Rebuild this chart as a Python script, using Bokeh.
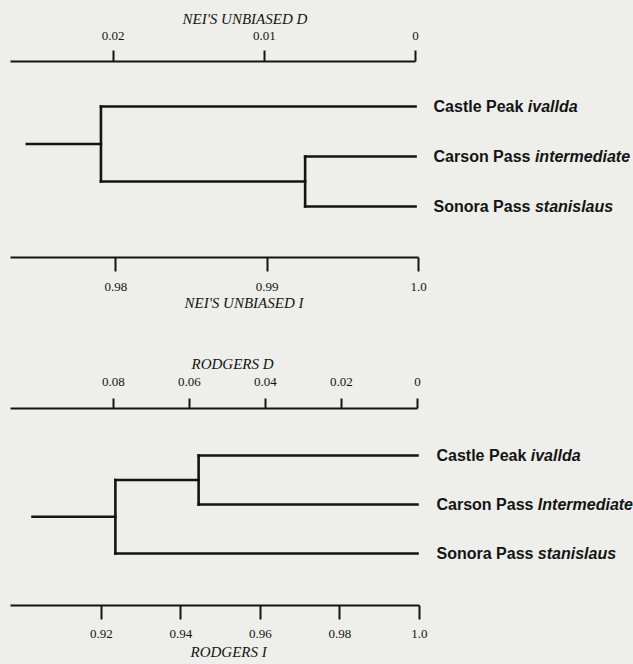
from bokeh.plotting import figure
from bokeh.models import Range1d, LinearAxis, FixedTicker, ColumnDataSource, Title
from bokeh.core.properties import value
from bokeh.layouts import column
from bokeh.embed import file_html
from bokeh.resources import INLINE

# ---------------- data ----------------
populations = ["Castle Peak", "Carson Pass", "Sonora Pass"]
nei_subspecies = ["ivallda", "intermediate", "stanislaus"]
rodgers_subspecies = ["ivallda", "Intermediate", "stanislaus"]

# Nei's unbiased D tree: Carson Pass + Sonora Pass join first, then Castle Peak
nei_pair = [1, 2]
nei_pair_D = 0.0073
nei_root_D = 0.0208
nei_stem_D = 0.0257

# Rodgers D tree: Castle Peak + Carson Pass join first, then Sonora Pass
rodgers_pair = [0, 1]
rodgers_pair_D = 0.0576
rodgers_root_D = 0.0795
rodgers_stem_D = 0.1013

nei_D_ticks = [0.02, 0.01, 0.0]
nei_D_labels = ["0.02", "0.01", "0"]
nei_I_ticks = [0.98, 0.99, 1.0]
nei_I_labels = ["0.98", "0.99", "1.0"]
rodgers_D_ticks = [0.08, 0.06, 0.04, 0.02, 0.0]
rodgers_D_labels = ["0.08", "0.06", "0.04", "0.02", "0"]
rodgers_I_ticks = [0.92, 0.94, 0.96, 0.98, 1.0]
rodgers_I_labels = ["0.92", "0.94", "0.96", "0.98", "1.0"]

# ---------------- styling ----------------
BG = "#eeeeeb"
INK = "#141414"
W = 633
LABEL_PX = 16
# Helvetica/Liberation Sans Bold advance widths (per 1000 em)
HB = {' ': 278, 'C': 722, 'a': 556, 's': 556, 't': 333, 'l': 278, 'e': 556, 'P': 667,
      'k': 556, 'r': 389, 'o': 611, 'n': 611, 'S': 667}


def text_width(s, size):
    return sum(HB.get(c, 556) for c in s) * size / 1000.0


def tree_segments(pair, pair_D, root_D, stem_D):
    other = [i for i in range(len(populations)) if i not in pair][0]
    pair_y = sum(pair) / 2.0
    root_y = (other + pair_y) / 2.0
    segs = []
    for leaf in pair:
        segs.append((0.0, leaf, pair_D, leaf))
    segs.append((pair_D, pair[0], pair_D, pair[1]))
    segs.append((0.0, other, root_D, other))
    segs.append((pair_D, pair_y, root_D, pair_y))
    segs.append((root_D, min(other, pair_y), root_D, max(other, pair_y)))
    segs.append((root_D, root_y, stem_D, root_y))
    return dict(x0=[s[0] for s in segs], y0=[s[1] for s in segs],
                x1=[s[2] for s in segs], y1=[s[3] for s in segs])


def style_axis(ax, ticks, labels, bounds, tick_out, standoff):
    ax.ticker = FixedTicker(ticks=ticks)
    ax.major_label_overrides = dict(zip(ticks, labels))
    ax.bounds = bounds
    ax.minor_tick_line_color = None
    ax.major_tick_in = 0
    ax.major_tick_out = tick_out
    ax.axis_line_width = 2
    ax.axis_line_color = INK
    ax.major_tick_line_width = 2
    ax.major_tick_line_color = INK
    ax.major_label_text_font = "Liberation Serif"
    ax.major_label_text_font_size = "13px"
    ax.major_label_text_color = INK
    ax.major_label_standoff = standoff
    ax.axis_label = None


def add_title(p, text, loc, offset, standoff):
    t = Title(text=text, align="left", offset=offset, standoff=standoff,
              text_font="Liberation Serif", text_font_style="italic",
              text_font_size="15px", text_color=INK,
              vertical_align="bottom" if loc == "above" else "top")
    p.add_layout(t, loc)


def make_tree(height, d_range, i_range, i_bound_left, y_range, borders, segs, subsp,
              d_ticks, d_labels, i_ticks, i_labels, tick_len, standoffs, titles, label_off):
    bl, bt, bb = borders
    p = figure(width=W, height=height, x_range=Range1d(*d_range),
               y_range=Range1d(*y_range), x_axis_location="above",
               y_axis_location=None, toolbar_location=None, output_backend="svg",
               min_border_left=bl, min_border_right=0, min_border_top=bt,
               min_border_bottom=bb)
    p.background_fill_color = BG
    p.border_fill_color = BG
    p.outline_line_color = None
    p.xgrid.visible = False
    p.ygrid.visible = False

    p.extra_x_ranges = {"I": Range1d(*i_range)}
    style_axis(p.xaxis[0], d_ticks, d_labels, (0.0, d_range[0]), tick_len[0], standoffs[0])
    iax = LinearAxis(x_range_name="I")
    style_axis(iax, i_ticks, i_labels, (i_bound_left, 1.0), tick_len[1], standoffs[1])
    p.add_layout(iax, "below")

    p.segment(x0="x0", y0="y0", x1="x1", y1="y1", source=ColumnDataSource(segs),
              line_width=2.6, line_color=INK, line_cap="square")

    ys = list(range(len(populations)))
    src = ColumnDataSource(dict(
        x=[0.0] * len(populations), y=ys, name=populations, sub=subsp,
        off=[label_off + text_width(n + " ", LABEL_PX) for n in populations]))
    p.text(x="x", y="y", text="name", source=src, x_offset=label_off,
           text_baseline="middle", text_font=value("Liberation Sans"),
           text_font_style="bold", text_font_size=f"{LABEL_PX}px", text_color=INK)
    p.text(x="x", y="y", text="sub", source=src, x_offset="off",
           text_baseline="middle", text_font=value("Liberation Sans"),
           text_font_style="bold italic", text_font_size=f"{LABEL_PX}px", text_color=INK)
    (t_top, off_top, std_top), (t_bot, off_bot, std_bot) = titles
    add_title(p, t_top, "above", off_top, std_top)
    add_title(p, t_bot, "below", off_bot, std_bot)
    return p


H1 = 320
p1 = make_tree(H1, (0.02678, -0.01441), (0.97303, 1.01421), 0.97303, (3.02, -0.9),
               (7, 61, H1 - 257),
               tree_segments(nei_pair, nei_pair_D, nei_root_D, nei_stem_D),
               nei_subspecies, nei_D_ticks, nei_D_labels, nei_I_ticks, nei_I_labels,
               (11, 14), (11, 11),
               (("NEI'S UNBIASED D", 172, 4), ("NEI'S UNBIASED I", 174, 2)), 18)

H2 = 664 - H1
p2 = make_tree(H2, (0.1071, -0.05684), (0.89711, 1.05384), 0.89711, (3.061, -0.959),
               (10, 408 - H1, 664 - 605),
               tree_segments(rodgers_pair, rodgers_pair_D, rodgers_root_D, rodgers_stem_D),
               rodgers_subspecies, rodgers_D_ticks, rodgers_D_labels, rodgers_I_ticks,
               rodgers_I_labels, (10, 14), (13, 10),
               (("RODGERS D", 181, 6), ("RODGERS I", 180, 6)), 19)

layout = column(p1, p2, spacing=0)
layout.styles = {"background-color": BG}
html = file_html(layout, INLINE)
html = html.replace("</head>",
                    "<style>html, body { background-color: %s !important; }</style></head>" % BG, 1)
open("out.html", "w").write(html)
